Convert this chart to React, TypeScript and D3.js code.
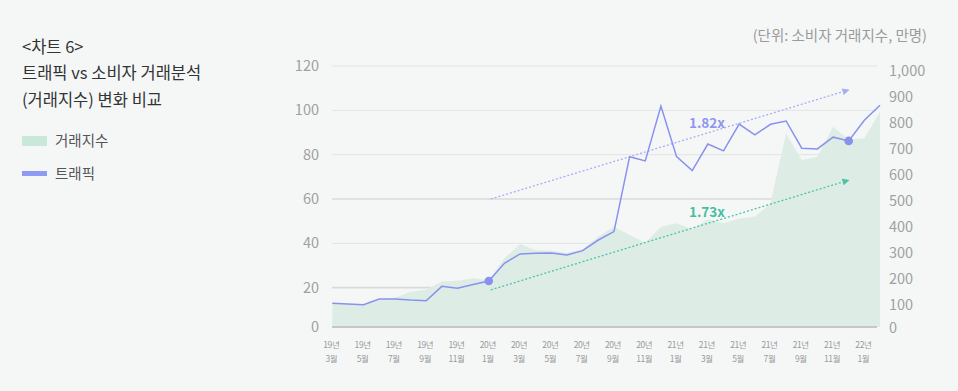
import * as d3 from "d3";
import { useEffect, useRef } from "react";

// 월별 카테고리 (19년 3월 ~ 22년 2월)
const months = [
  "19.03", "19.04", "19.05", "19.06", "19.07", "19.08", "19.09", "19.10", "19.11", "19.12",
  "20.01", "20.02", "20.03", "20.04", "20.05", "20.06", "20.07", "20.08", "20.09", "20.10",
  "20.11", "20.12", "21.01", "21.02", "21.03", "21.04", "21.05", "21.06", "21.07", "21.08",
  "21.09", "21.10", "21.11", "21.12", "22.01", "22.02",
];

// 트래픽 (왼쪽 축)
const traffic = [
  13.0, 12.6, 12.3, 14.9, 14.9, 14.4, 14.1, 20.6, 19.7, 21.4,
  23.0, 31.0, 35.2, 35.5, 35.6, 34.7, 36.7, 41.5, 45.3, 79.1,
  77.2, 101.9, 79.1, 72.8, 84.8, 81.7, 93.8, 88.9, 93.7, 95.2,
  82.9, 82.6, 87.9, 86.2, 95.5, 102.3,
];

// 거래지수 (오른쪽 축, 만명)
const txIndex = [
  106, 104, 101, 119, 128, 151, 160, 190, 193, 203,
  196, 280, 335, 311, 309, 301, 314, 363, 401, 369,
  340, 401, 414, 391, 430, 414, 433, 440, 490, 760,
  658, 670, 786, 737, 741, 843,
];

const leftTicks = [0, 20, 40, 60, 80, 100, 120];
const rightTicks = [0, 100, 200, 300, 400, 500, 600, 700, 800, 900, 1000];
const markedMonths = ["20.01", "21.12"];

// 추세 화살표 (왼쪽 축 기준)
const trends = [
  { label: "1.82x", from: ["20.01", 60], to: ["21.12", 109.2], color: "#a9aef4", text: "#8e96ef" },
  { label: "1.73x", from: ["20.01", 19], to: ["21.12", 68.5], color: "#4cc3a7", text: "#45bea2" },
];

const W = 958;
const H = 391;
const font = "'Noto Sans CJK KR', 'Noto Sans', sans-serif";

export default function App() {
  const ref = useRef<SVGSVGElement>(null);

  useEffect(() => {
    document.body.style.margin = "0";
    const svg = d3.select(ref.current);
    svg.selectAll("*").remove();

    svg.append("rect").attr("width", W).attr("height", H).attr("fill", "#f5f7f7");

    const x = d3.scalePoint<string>().domain(months).range([332.3, 880]);
    const yL = d3.scaleLinear().domain([0, 120]).range([332, 66]);
    const yR = d3.scaleLinear().domain([0, 1000]).range([331, 71]);
    const baseY = 327;

    // 제목
    const title = ["<차트 6>", "트래픽 vs 소비자 거래분석", "(거래지수) 변화 비교"];
    svg.append("g").selectAll("text").data(title).enter().append("text")
      .attr("x", 22).attr("y", (d, i) => 47 + i * 26.5)
      .attr("dy", "0.35em")
      .attr("font-family", font).attr("font-size", 16.5)
      .attr("fill", "#333").text(d => d);

    // 범례
    svg.append("rect").attr("x", 22).attr("y", 136).attr("width", 25).attr("height", 10).attr("fill", "#c9e8da");
    svg.append("text").attr("x", 55).attr("y", 141).attr("dy", "0.35em")
      .attr("font-family", font).attr("font-size", 14.5).attr("fill", "#555").text("거래지수");
    svg.append("rect").attr("x", 22).attr("y", 171).attr("width", 25).attr("height", 5).attr("fill", "#8f9af5");
    svg.append("text").attr("x", 55).attr("y", 173.5).attr("dy", "0.35em")
      .attr("font-family", font).attr("font-size", 14.5).attr("fill", "#555").text("트래픽");

    // 단위
    svg.append("text").attr("x", 927).attr("y", 36).attr("dy", "0.35em").attr("text-anchor", "end")
      .attr("font-family", font).attr("font-size", 14.5).attr("fill", "#9a9a9a")
      .text("(단위: 소비자 거래지수, 만명)");

    // 그리드
    svg.append("g").selectAll("line").data(leftTicks.filter(d => d > 0)).enter().append("line")
      .attr("x1", 332).attr("x2", 877)
      .attr("y1", d => yL(d)).attr("y2", d => yL(d))
      .attr("stroke", d => (d === 20 || d === 60 ? "#d9dbdb" : "#e2e4e4"))
      .attr("stroke-width", d => (d === 20 || d === 60 ? 1.6 : 1));

    // 거래지수 영역
    const area = d3.area<number>()
      .x((d, i) => x(months[i])!)
      .y0(baseY)
      .y1(d => yR(d));
    svg.append("path").datum(txIndex).attr("d", area).attr("fill", "#ddede6");

    // 기준선
    svg.append("line").attr("x1", 332).attr("x2", 877).attr("y1", baseY).attr("y2", baseY)
      .attr("stroke", "#c6c8c8").attr("stroke-width", 2);

    // 왼쪽 축
    svg.append("g").selectAll("text").data(leftTicks).enter().append("text")
      .attr("x", 319).attr("y", d => Math.min(yL(d), baseY)).attr("dy", "0.35em")
      .attr("text-anchor", "end")
      .attr("font-family", font).attr("font-size", 14.5).attr("fill", "#a0a0a0")
      .text(d => d);

    // 오른쪽 축
    svg.append("g").selectAll("text").data(rightTicks).enter().append("text")
      .attr("x", 889).attr("y", d => Math.min(yR(d), baseY + 1)).attr("dy", "0.35em")
      .attr("font-family", font).attr("font-size", 14.5).attr("fill", "#a0a0a0")
      .text(d => d3.format(",")(d));

    // X축 라벨 (2개월 간격)
    const tickMonths = months.filter((d, i) => i % 2 === 0);
    const xg = svg.append("g")
      .attr("font-family", font).attr("font-size", 8.5).attr("fill", "#999")
      .attr("letter-spacing", -0.4).attr("text-anchor", "middle");
    xg.selectAll("text.yr").data(tickMonths).enter().append("text").attr("class", "yr")
      .attr("x", d => x(d)! - 1).attr("y", 345).attr("dy", "0.35em")
      .text(d => d.slice(0, 2) + "년");
    xg.selectAll("text.mo").data(tickMonths).enter().append("text").attr("class", "mo")
      .attr("x", d => x(d)! - 1).attr("y", 359).attr("dy", "0.35em")
      .text(d => +d.slice(3) + "월");

    // 추세 화살표
    const defs = svg.append("defs");
    trends.forEach((t, i) => {
      defs.append("marker").attr("id", `arr${i}`)
        .attr("viewBox", "0 0 10 10").attr("refX", 9).attr("refY", 5)
        .attr("markerWidth", 7).attr("markerHeight", 7).attr("orient", "auto")
        .attr("markerUnits", "userSpaceOnUse")
        .append("path").attr("d", "M0,0L10,5L0,10Z").attr("fill", t.color);
      svg.append("line")
        .attr("x1", x(t.from[0] as string)! + 2).attr("y1", yL(t.from[1] as number))
        .attr("x2", x(t.to[0] as string)!).attr("y2", yL(t.to[1] as number))
        .attr("stroke", t.color).attr("stroke-width", 1.3)
        .attr("stroke-dasharray", "2,2")
        .attr("marker-end", `url(#arr${i})`);
    });

    // 트래픽 라인
    const line = d3.line<number>()
      .x((d, i) => x(months[i])!)
      .y(d => yL(d));
    svg.append("path").datum(traffic).attr("d", line)
      .attr("fill", "none").attr("stroke", "#8891ee").attr("stroke-width", 1.5);

    svg.append("g").selectAll("circle").data(markedMonths).enter().append("circle")
      .attr("cx", d => x(d)!).attr("cy", d => yL(traffic[months.indexOf(d)]))
      .attr("r", 4.3).attr("fill", "#8891ee");

    // 배수 라벨
    svg.append("g").selectAll("text").data(trends).enter().append("text")
      .attr("x", 689).attr("y", (d, i) => (i === 0 ? 123 : 212)).attr("dy", "0.35em")
      .attr("font-family", font).attr("font-size", 13.5).attr("font-weight", 700)
      .attr("fill", d => d.text).text(d => d.label);
  }, []);

  return <svg ref={ref} width={W} height={H} style={{ position: "absolute", left: 0, top: 0, display: "block" }} />;
}
